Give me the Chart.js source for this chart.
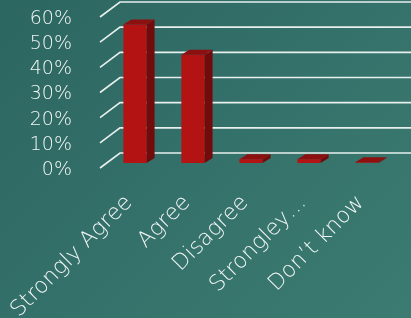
<!DOCTYPE html>
<html>
<head>
<meta charset="utf-8">
<script src="https://cdn.jsdelivr.net/npm/chart.js@4.4.1/dist/chart.umd.min.js"></script>
<style>
  html, body { margin: 0; padding: 0; }
  body {
    width: 411px; height: 318px; overflow: hidden;
    background: linear-gradient(135deg, #2c6660 0%, #34716a 50%, #3b7b71 100%);
  }
  #wrap { position: relative; width: 411px; height: 318px; }
</style>
</head>
<body>
<div id="wrap"><canvas id="chart"></canvas></div>
<script>
// survey answers, share of respondents (%)
const categories = ["Strongly Agree", "Agree", "Disagree", "Strongley…", "Don’t know"];
const shares = [55, 43, 1.5, 1.5, 0.3];
const yTicks = [0, 10, 20, 30, 40, 50, 60];

// 3D look: back wall offset and bar depth
const WALL_DX = 20, WALL_DY = 15;
const BAR_DX = 6, BAR_DY = 5;
const DEPTH_X = 8, DEPTH_Y = 5;

const fake3d = {
  id: "fake3d",
  beforeDraw(chart) {
    const { ctx, chartArea, scales } = chart;
    const y = scales.y;
    ctx.save();
    ctx.strokeStyle = "#e8f0ee";
    ctx.lineWidth = 1.6;
    yTicks.forEach(v => {
      const py = y.getPixelForValue(v);
      ctx.beginPath();
      ctx.moveTo(chartArea.left, py);
      ctx.lineTo(chartArea.left + WALL_DX, py - WALL_DY);
      ctx.lineTo(chart.width, py - WALL_DY);
      ctx.stroke();
    });
    ctx.restore();
  },
  beforeDatasetsDraw(chart) {
    chart.ctx.save();
    chart.ctx.translate(BAR_DX, -BAR_DY);
  },
  afterDatasetsDraw(chart) {
    const { ctx } = chart;
    chart.getDatasetMeta(0).data.forEach(bar => {
      const { x, y, base, width } = bar.getProps(["x", "y", "base", "width"], true);
      const l = x - width / 2, r = x + width / 2;
      // side
      ctx.fillStyle = "#720c0c";
      ctx.beginPath();
      ctx.moveTo(r, y);
      ctx.lineTo(r + DEPTH_X, y - DEPTH_Y);
      ctx.lineTo(r + DEPTH_X, base - DEPTH_Y);
      ctx.lineTo(r, base);
      ctx.closePath();
      ctx.fill();
      // top
      ctx.fillStyle = "#8c1010";
      ctx.beginPath();
      ctx.moveTo(l, y);
      ctx.lineTo(l + DEPTH_X, y - DEPTH_Y);
      ctx.lineTo(r + DEPTH_X, y - DEPTH_Y);
      ctx.lineTo(r, y);
      ctx.closePath();
      ctx.fill();
    });
    ctx.restore();
  }
};

new Chart(document.getElementById("chart"), {
  type: "bar",
  data: {
    labels: categories,
    datasets: [{
      data: shares,
      backgroundColor: "#b31313",
      barPercentage: 0.4,
      categoryPercentage: 1
    }]
  },
  options: {
    responsive: true,
    maintainAspectRatio: false,
    animation: false,
    layout: { padding: { top: 17, right: 21, left: 0, bottom: 0 } },
    plugins: { legend: { display: false }, tooltip: { enabled: false } },
    scales: {
      x: {
        afterFit(axis) {
          axis.height = 150;
          axis.paddingLeft = 0;
          axis.paddingRight = 0;
        },
        grid: { display: false },
        border: { display: false },
        ticks: {
          color: "#f2f6f5",
          font: { family: "DejaVu Sans", size: 22, weight: "200" },
          minRotation: 45, maxRotation: 45,
          autoSkip: false, padding: 14
        }
      },
      y: {
        min: 0, max: 60,
        afterBuildTicks(axis) { axis.ticks = yTicks.map(v => ({ value: v })); },
        afterFit(axis) {
          axis.width = 100;
          axis.paddingTop = 0;
          axis.paddingBottom = 0;
        },
        grid: { display: false },
        border: { display: false },
        ticks: {
          color: "#f2f6f5",
          font: { family: "DejaVu Sans", size: 19, weight: "200" },
          autoSkip: false,
          padding: 20,
          labelOffset: 2,
          callback: v => v + "%"
        }
      }
    }
  },
  plugins: [fake3d]
});
</script>
</body>
</html>
